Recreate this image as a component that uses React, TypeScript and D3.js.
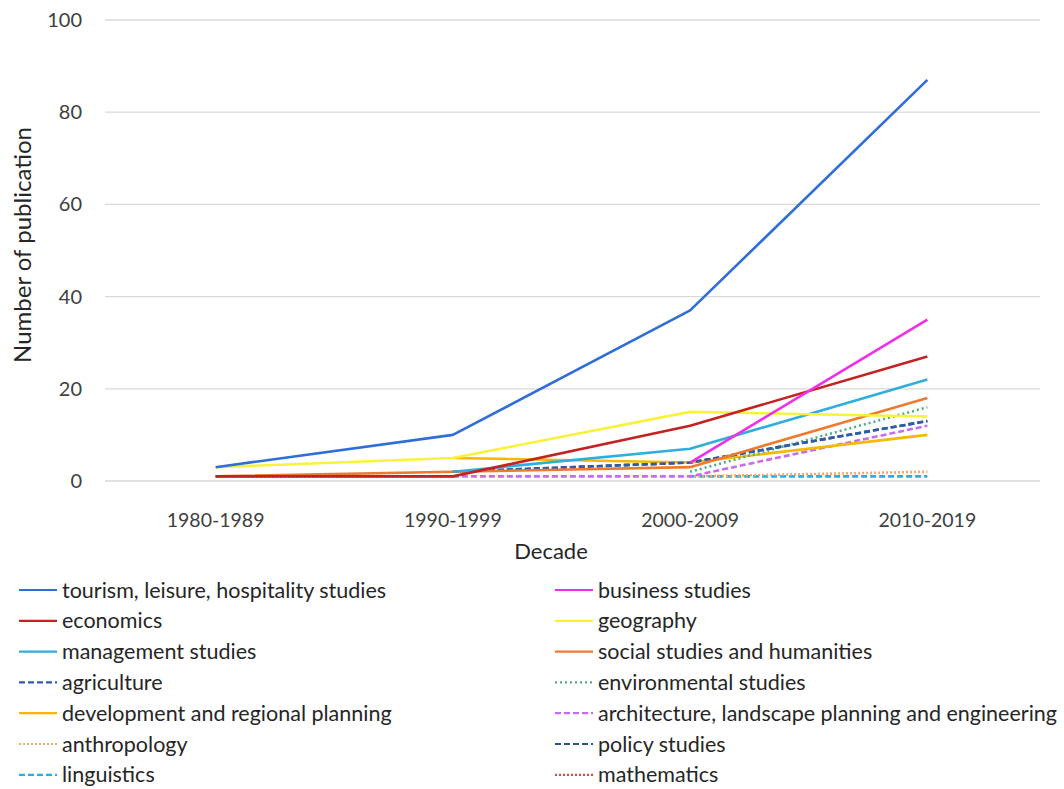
import React from "react";
import * as d3 from "d3";

const decades = ["1980-1989", "1990-1999", "2000-2009", "2010-2019"];
const yTicks = [0, 20, 40, 60, 80, 100];

type V = number | null;
const tourism: V[] = [3, 10, 37, 87];
const business: V[] = [null, null, 4, 35];
const economics: V[] = [1, 1, 12, 27];
const geography: V[] = [3, 5, 15, 14];
const management: V[] = [null, 2, 7, 22];
const social: V[] = [1, 2, 3, 18];
const agriculture: V[] = [null, 2, 4, 13];
const environmental: V[] = [null, null, 2, 16];
const development: V[] = [null, 5, 4, 10];
const architecture: V[] = [null, 1, 1, 12];
const anthropology: V[] = [null, null, 1, 2];
const policy: V[] = [null, 2, 4, 13];
const linguistics: V[] = [null, null, 1, 1];
const mathematics: V[] = [1, 1, null, null];

const seriesNames = [
  "tourism, leisure, hospitality studies",
  "business studies",
  "economics",
  "geography",
  "management studies",
  "social studies and humanities",
  "agriculture",
  "environmental studies",
  "development and regional planning",
  "architecture, landscape planning and engineering",
  "anthropology",
  "policy studies",
  "linguistics",
  "mathematics",
];
const seriesValues = [
  tourism, business, economics, geography, management, social, agriculture,
  environmental, development, architecture, anthropology, policy, linguistics, mathematics,
];
const seriesColors = [
  "#2F6ED8", "#F02EE8", "#C42222", "#F8F23A", "#2EAEDD", "#EE7A30", "#2F5BA8",
  "#4FAF7F", "#F6B800", "#C96BEE", "#F2A76E", "#2A5298", "#1FB2E8", "#E0474C",
];
const seriesDash = [
  null, null, null, null, null, null, "6,3", "2,3", null, "6,3", "2,2", "6,3", "6,3", "2,2",
];

export default function App() {
  const W = 1064, H = 789;
  const x = d3.scaleBand<string>().domain(decades).range([97, 1046]);
  const y = d3.scaleLinear().domain([0, 100]).range([481, 20]);
  const line = d3
    .line<V>()
    .defined((d) => d !== null)
    .x((_, i) => (x(decades[i]) as number) + x.bandwidth() / 2)
    .y((d) => y(d as number));

  const font = "Lato, 'Open Sans', sans-serif";
  const order = [...seriesNames.keys()].reverse();

  return (
    <svg width={W} height={H} style={{ position: "absolute", left: 0, top: 0, background: "#fff" }} fontFamily={font}>
      {yTicks.map((t) => (
        <g key={t}>
          <line x1={105} x2={1040} y1={y(t)} y2={y(t)} stroke="#d9d9d9" strokeWidth={1.3} />
          <text x={82} y={y(t)} dy="0.35em" textAnchor="end" fontSize={20} fill="#404040">{t}</text>
        </g>
      ))}
      {decades.map((d) => (
        <text key={d} x={(x(d) as number) + x.bandwidth() / 2} y={520} dy="0.35em" textAnchor="middle" fontSize={19.5} fill="#404040">{d}</text>
      ))}
      <text x={551} y={551} dy="0.35em" textAnchor="middle" fontSize={22} fill="#262626">Decade</text>
      <text transform={`translate(23,245) rotate(-90)`} textAnchor="middle" dy="0.35em" fontSize={24} fill="#262626">Number of publication</text>
      {order.map((i) => (
        <path key={i} d={line(seriesValues[i]) || ""} fill="none" stroke={seriesColors[i]} strokeWidth={2.6}
          strokeDasharray={seriesDash[i] || undefined} strokeLinejoin="round" />
      ))}
      {seriesNames.map((n, i) => {
        const col = i % 2;
        const row = Math.floor(i / 2);
        const lx = col === 0 ? 19 : 555;
        const ly = 590 + row * 30.8;
        return (
          <g key={n}>
            <line x1={lx} x2={lx + 38} y1={ly} y2={ly} stroke={seriesColors[i]} strokeWidth={2.2}
              strokeDasharray={seriesDash[i] || undefined} />
            <text x={lx + 43} y={ly} dy="0.35em" fontSize={21.5} fill="#262626">{n}</text>
          </g>
        );
      })}
    </svg>
  );
}
